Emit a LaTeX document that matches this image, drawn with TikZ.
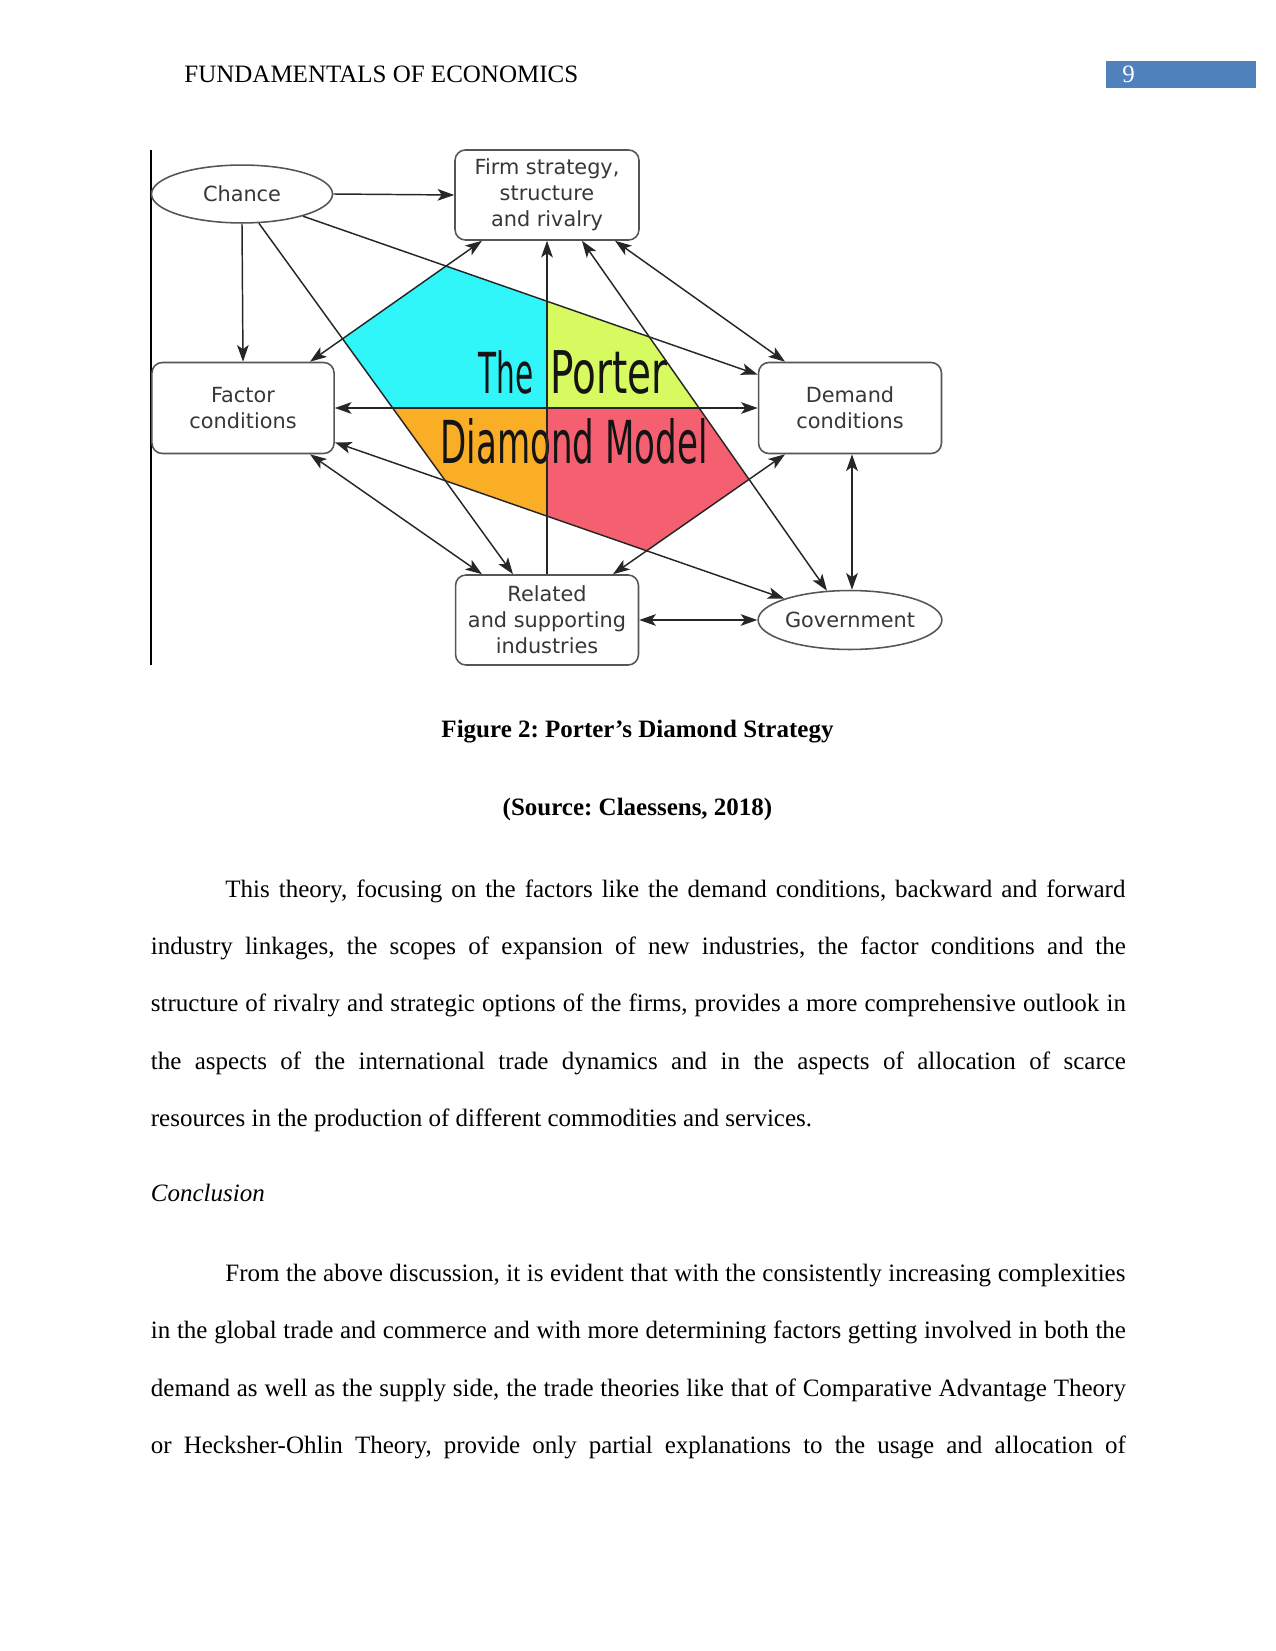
\documentclass[tikz,border=0pt]{standalone}
\usepackage{fontspec}
\setmainfont{Liberation Serif}
\newfontfamily\dvs{DejaVu Sans}
\usetikzlibrary{arrows.meta,shapes.geometric,calc}
\definecolor{qcyan}{RGB}{48,246,250}
\definecolor{qyel}{RGB}{214,250,95}
\definecolor{qora}{RGB}{250,174,38}
\definecolor{qred}{RGB}{245,96,112}
\definecolor{hdrblue}{RGB}{79,129,189}
\definecolor{boxline}{RGB}{85,85,85}
\definecolor{boxtext}{RGB}{55,55,55}
\frenchspacing
\begin{document}
\begin{tikzpicture}[x=0.48pt,y=-0.48pt,
  >={Stealth[length=8pt,width=5.6pt,inset=2pt]},
  box/.style={draw=boxline, line width=0.75pt, rounded corners=5pt, fill=white,
    align=center, text=boxtext, inner sep=0pt,
    font=\dvs\fontsize{10pt}{12.4pt}\selectfont},
  oval/.style={draw=boxline, line width=0.75pt, ellipse, fill=white,
    text=boxtext, inner sep=0pt, font=\dvs\fontsize{10pt}{12.4pt}\selectfont},
  conn/.style={draw=black!85, line width=0.7pt},
  body/.style={anchor=base west, inner sep=0pt, font=\fontsize{12pt}{14pt}\selectfont},
  bigtxt/.style={anchor=base west, inner sep=0pt, text=black!92}]
\useasboundingbox (0,0) rectangle (1275,1651);
% header
\node[body] (hdr) at (184,83) {FUNDAMENTALS OF ECONOMICS};
\fill[hdrblue] (1106,61) rectangle (1256,88);
\node[body, text=white] (pgno) at (1122,83) {9};
% left rule
\draw[line width=0.6pt] (151,150) -- (151,665);
% nodes
\node[box, minimum width=88.3pt, minimum height=43.2pt] (firm) at (547,195) {Firm strategy,\\structure\\and rivalry};
\node[box, minimum width=87.4pt, minimum height=43.7pt] (factor) at (243,408) {Factor\\conditions};
\node[box, minimum width=87.8pt, minimum height=43.7pt] (demand) at (850,408) {Demand\\conditions};
\node[box, minimum width=87.8pt, minimum height=43.2pt] (related) at (547,620) {Related\\and supporting\\industries};
\node[oval, minimum width=86.9pt, minimum height=27.8pt] (chance) at (242,194) {Chance};
\node[oval, minimum width=87.8pt, minimum height=28.3pt] (gov) at (850,620) {Government};
% connector end points
\coordinate (cA) at (chance.-60);
\coordinate (rA) at ($(related.north)+(-34,0)$);
\coordinate (cB) at (chance.-20);
\coordinate (dB) at ($(demand.north west)+(0,13)$);
\coordinate (fC) at ($(firm.south)+(-65,0)$);
\coordinate (faC) at ($(factor.north)+(67,0)$);
\coordinate (fD) at ($(firm.south)+(35,0)$);
\coordinate (gD) at ($(gov.north)+(-23,1)$);
\coordinate (fE) at ($(firm.south)+(68,0)$);
\coordinate (dE) at ($(demand.north)+(-65,0)$);
\coordinate (faF) at ($(factor.south)+(67,0)$);
\coordinate (rF) at ($(related.north)+(-65,0)$);
\coordinate (faG) at ($(factor.south east)+(0,-12)$);
\coordinate (gG) at (gov.162);
\coordinate (dH) at ($(demand.south)+(-65,0)$);
\coordinate (rH) at ($(related.north)+(66,0)$);
\coordinate (dI) at ($(demand.south)+(2,0)$);
\coordinate (gI) at ($(gov.north)+(2,0)$);
% diamond polygon
\coordinate (V1) at (intersection of fC--faC and cB--dB);
\coordinate (V2) at (intersection of cB--dB and fD--gD);
\coordinate (V3) at (intersection of fD--gD and dH--rH);
\coordinate (V4) at (intersection of dH--rH and faG--gG);
\coordinate (V5) at (intersection of faG--gG and cA--rA);
\coordinate (V6) at (intersection of cA--rA and fC--faC);
\coordinate (mid) at (firm.south |- factor.east);
\begin{scope}
  \clip (V1) -- (V2) -- (V3) -- (V4) -- (V5) -- (V6) -- cycle;
  \fill[qcyan] (mid) rectangle ++(-320,-220);
  \fill[qyel] (mid) rectangle ++(320,-220);
  \fill[qora] (mid) rectangle ++(-320,220);
  \fill[qred] (mid) rectangle ++(320,220);
\end{scope}
% title text
\node[bigtxt] (tThe) at (478,393) {\resizebox{26.4pt}{20.6pt}{\dvs The}};
\node[bigtxt] (tPorter) at (550,393) {\resizebox{56.2pt}{20.6pt}{\dvs Porter}};
\node[bigtxt] (tDiam) at (440,463) {\resizebox{128.2pt}{21.6pt}{\dvs Diamond Model}};
% connectors
\draw[conn,->] (chance.east) -- (firm.west);
\draw[conn,->] (chance.south) -- (factor.north);
\draw[conn,->] (cA) -- (rA);
\draw[conn,->] (cB) -- (dB);
\draw[conn,<->] (faC) -- (fC);
\draw[conn,->] (related.north) -- (firm.south);
\draw[conn,<->] (fD) -- (gD);
\draw[conn,<->] (fE) -- (dE);
\draw[conn,<->] (factor.east) -- (demand.west);
\draw[conn,<->] (faF) -- (rF);
\draw[conn,<->] (faG) -- (gG);
\draw[conn,<->] (dH) -- (rH);
\draw[conn,<->] (dI) -- (gI);
\draw[conn,<->] (related.east) -- (gov.west);
% caption
\node[anchor=base, inner sep=0pt, font=\fontsize{12pt}{14pt}\selectfont\bfseries] (cap1) at (637.5,737) {Figure 2: Porter’s Diamond Strategy};
\node[anchor=base, inner sep=0pt, font=\fontsize{12pt}{14pt}\selectfont\bfseries] (cap2) at (637.5,815) {(Source: Claessens, 2018)};
% paragraph 1
\node[body] (p1a) at (225,897) {\makebox[432pt][s]{This theory, focusing on the factors like the demand conditions, backward and forward}};
\node[body] (p1b) at (150.5,954) {\makebox[468pt][s]{industry linkages, the scopes of expansion of new industries, the factor conditions and the}};
\node[body] (p1c) at (150.5,1011) {\makebox[468pt][s]{structure of rivalry and strategic options of the firms, provides a more comprehensive outlook in}};
\node[body] (p1d) at (150.5,1069) {\makebox[468pt][s]{the aspects of the international trade dynamics and in the aspects of allocation of scarce}};
\node[body] (p1e) at (150.5,1126) {resources in the production of different commodities and services.};
% heading
\node[body, font=\fontsize{12pt}{14pt}\selectfont\itshape] (concl) at (150.5,1201) {Conclusion};
% paragraph 2
\node[body] (p2a) at (225,1281) {\makebox[432pt][s]{From the above discussion, it is evident that with the consistently increasing complexities}};
\node[body] (p2b) at (150.5,1338) {\makebox[468pt][s]{in the global trade and commerce and with more determining factors getting involved in both the}};
\node[body] (p2c) at (150.5,1396) {\makebox[468pt][s]{demand as well as the supply side, the trade theories like that of Comparative Advantage Theory}};
\node[body] (p2d) at (150.5,1453) {\makebox[468pt][s]{or Hecksher-Ohlin Theory, provide only partial explanations to the usage and allocation of}};
\end{tikzpicture}
\end{document}
